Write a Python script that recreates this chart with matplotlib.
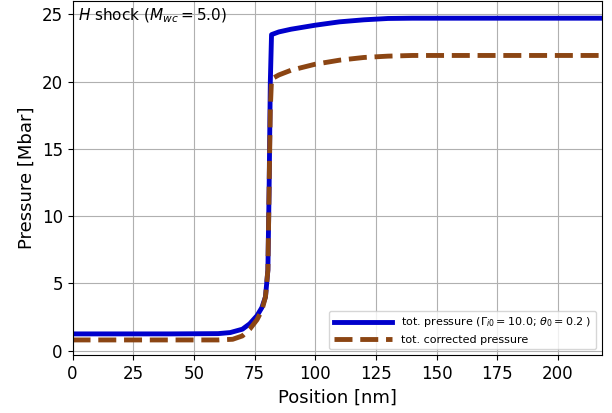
import matplotlib
matplotlib.use('Agg')
import matplotlib.pyplot as plt

# Shock profile
pos_tot = [0, 40, 60, 65, 70, 73, 76, 78, 79.5, 80.5, 81, 81.5, 82, 85, 90,
           100, 110, 120, 130, 140, 160, 218]
p_tot = [1.25, 1.25, 1.27, 1.35, 1.6, 2.0, 2.6, 3.2, 4.0, 6.0, 12.0, 20.0, 23.5,
         23.7, 23.9, 24.2, 24.45, 24.6, 24.7, 24.72, 24.72, 24.72]

pos_corr = [0, 60, 66, 70, 73, 76, 78, 79.5, 80.5, 81, 81.5, 82, 85, 90,
            100, 110, 120, 130, 140, 160, 218]
p_corr = [0.8, 0.8, 0.85, 1.1, 1.6, 2.3, 3.0, 4.0, 6.0, 12.0, 18.0, 20.2, 20.5,
          20.85, 21.3, 21.6, 21.8, 21.9, 21.95, 21.95, 21.95]

fig, ax = plt.subplots(figsize=(6.12, 4.13), dpi=100)
ax.plot(pos_tot, p_tot, color='#0000cc', lw=3.5,
        label=r'tot. pressure ($\Gamma_{i0} = 10.0$; $\theta_0 = 0.2$ )')
ax.plot(pos_corr, p_corr, color='#8b4513', lw=3.5, ls='--',
        label='tot. corrected pressure')

ax.set_xlim(0, 218)
ax.set_ylim(-0.32, 26)
ax.set_xticks(range(0, 201, 25))
ax.set_yticks(range(0, 26, 5))
ax.tick_params(labelsize=12)
ax.set_xlabel('Position [nm]', fontsize=13)
ax.set_ylabel('Pressure [Mbar]', fontsize=13)
ax.grid(True, color='#b0b0b0', lw=0.8)
ax.text(0.01, 0.985, r'$H$ shock ($M_{wc} = 5.0$)', transform=ax.transAxes,
        ha='left', va='top', fontsize=11)
ax.legend(loc='lower right', fontsize=8, handlelength=5.3)

fig.subplots_adjust(left=0.1185, right=0.983, top=0.9976, bottom=0.1404)
fig.savefig('out.png', dpi=100)
